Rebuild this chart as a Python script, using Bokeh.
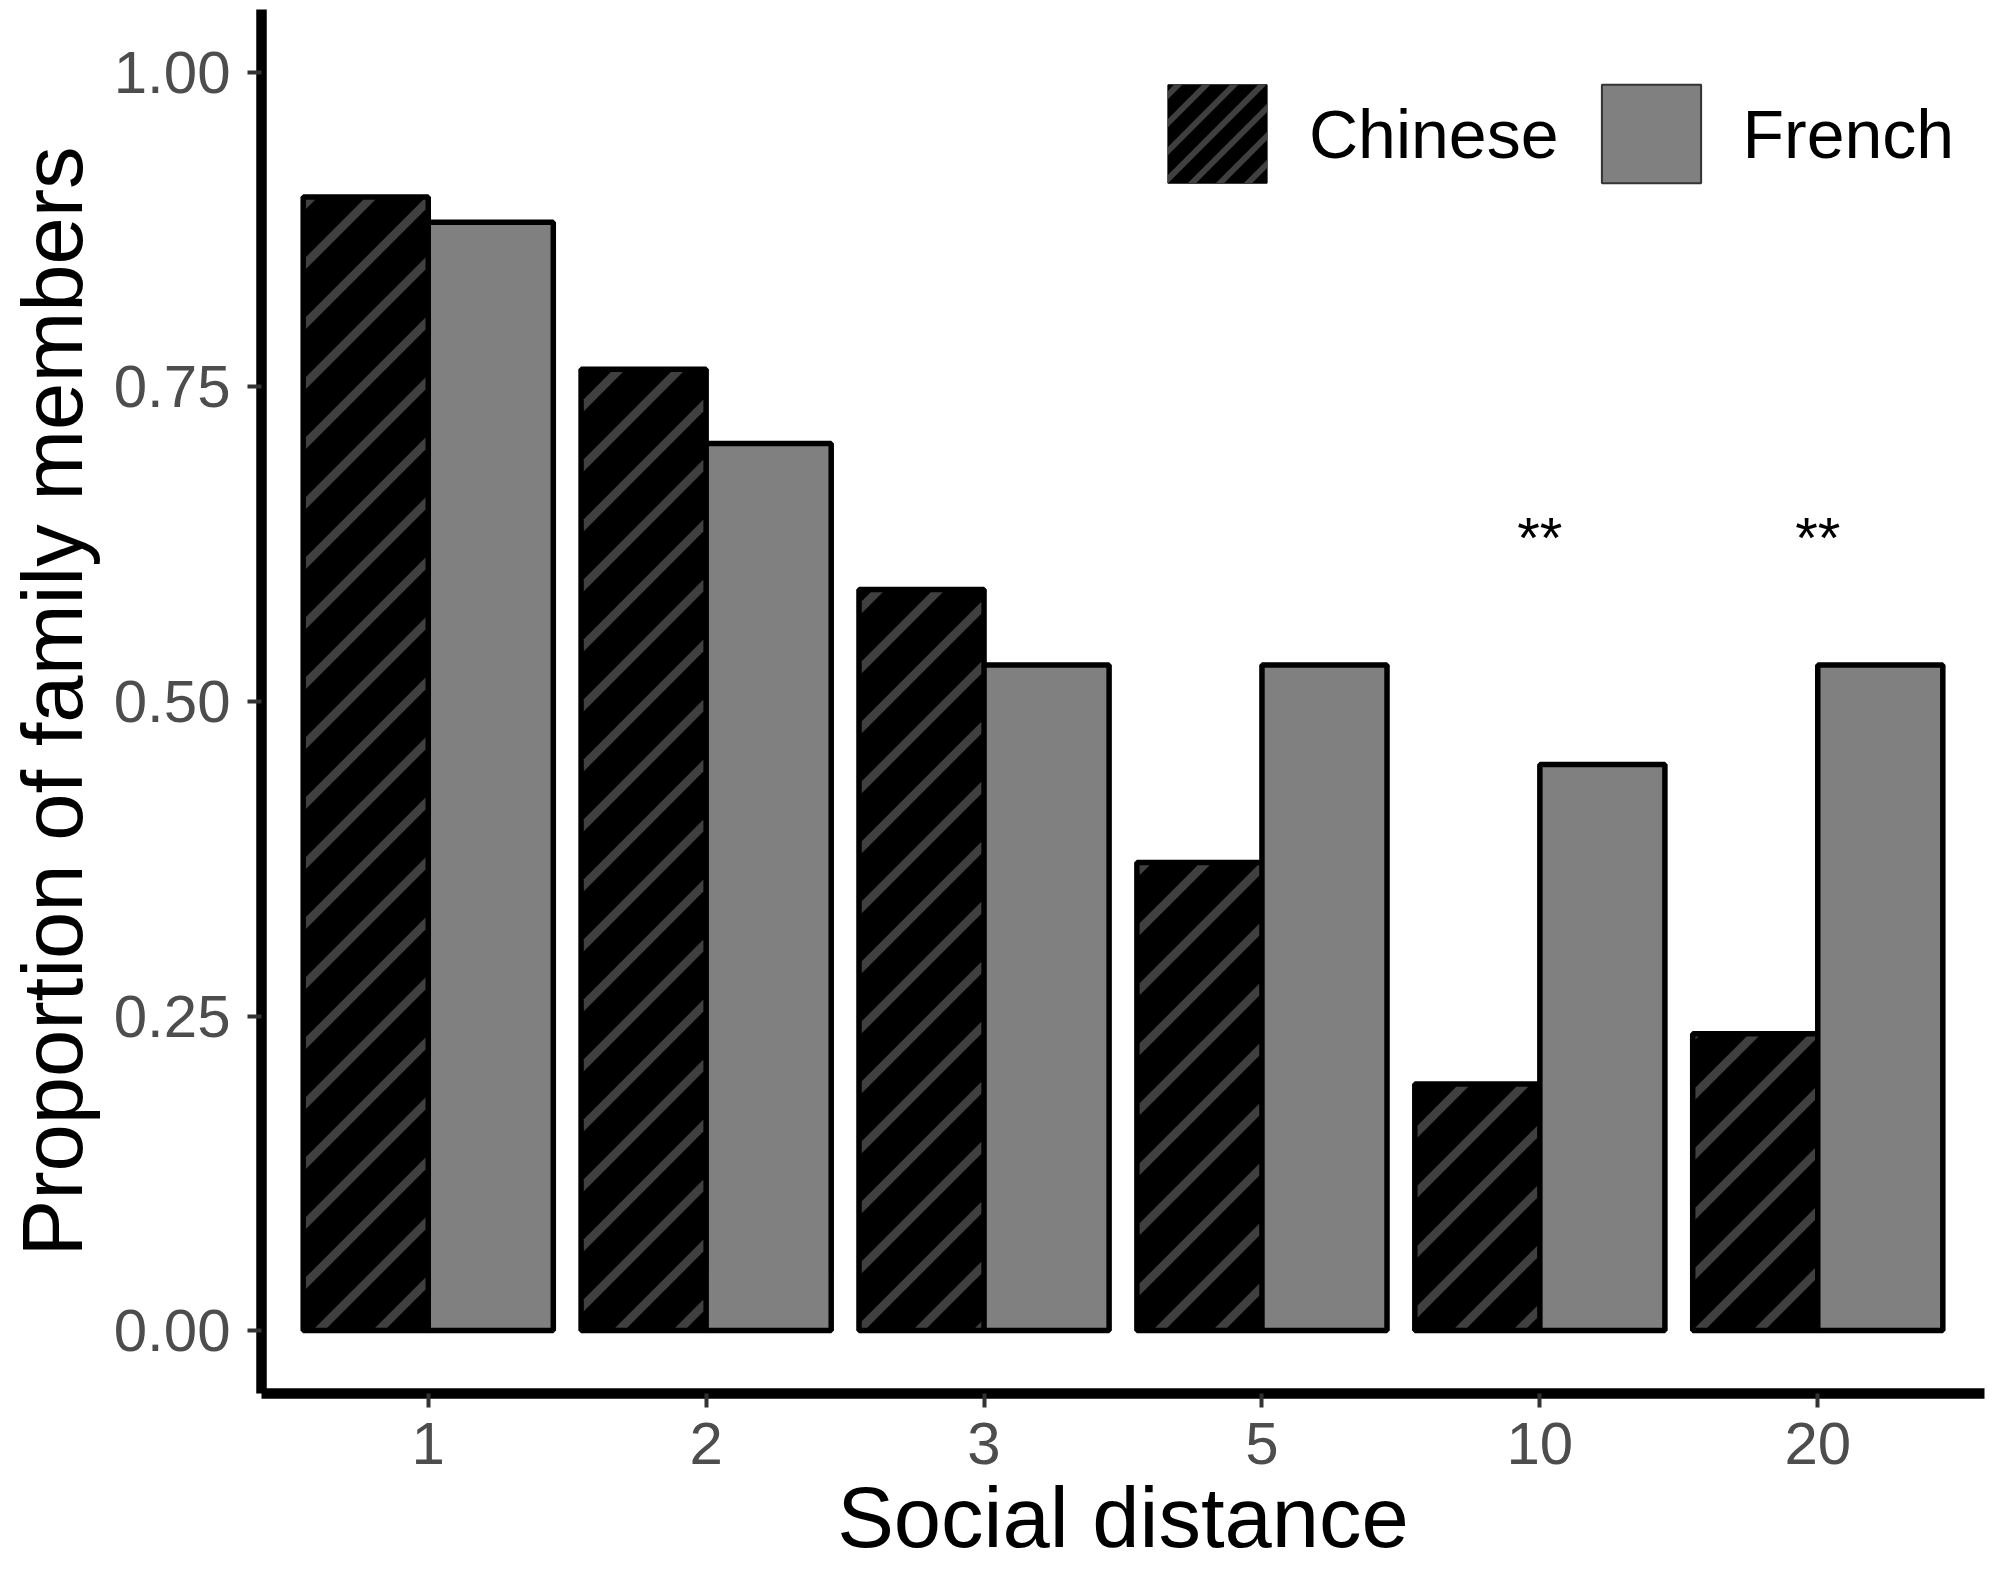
import math
from bokeh.plotting import figure
from bokeh.models import (Range1d, FixedTicker, NumeralTickFormatter,
                          Legend, LegendItem, ColumnDataSource)
from bokeh.transform import dodge
from bokeh.core.properties import value
from bokeh.embed import file_html
from bokeh.resources import INLINE

# ---- data ----
distances = ["1", "2", "3", "5", "10", "20"]
chinese = [0.901, 0.764, 0.589, 0.372, 0.196, 0.236]
french = [0.881, 0.705, 0.529, 0.529, 0.450, 0.529]
star_labels = ["", "", "", "", "**", "**"]
star_level = 0.63
y_ticks = [0.0, 0.25, 0.5, 0.75, 1.0]

FONT = "Liberation Sans"
STRIPE = "#404040"
W, H = 1987, 1570
FL, FT, FR = 261, 9, 3
FB = 1393
FW = W - FL - FR
FH = FB - FT

pos = list(range(1, len(distances) + 1))
src = ColumnDataSource(dict(pos=pos, dist=distances, chinese=chinese, french=french))

x0, x1 = 0.4, len(distances) + 0.6
y0, y1 = -0.05, 1.05
px_x = FW / (x1 - x0)
px_y = FH / (y1 - y0)

p = figure(width=W, height=H,
           x_range=Range1d(x0, x1), y_range=Range1d(y0, y1),
           output_backend="svg", toolbar_location=None, title=None,
           min_border_left=FL, min_border_right=FR,
           min_border_top=FT, min_border_bottom=H - FB)
p.background_fill_color = "white"
p.border_fill_color = "white"
p.outline_line_color = None
p.xgrid.visible = False
p.ygrid.visible = False


# ---- helper: 45 degree "/" stripes clipped to a pixel rectangle ----
def _clip(poly, a, b, c):
    out = []
    n = len(poly)
    for i in range(n):
        P, Q = poly[i], poly[(i + 1) % n]
        fp = a * P[0] + b * P[1] - c
        fq = a * Q[0] + b * Q[1] - c
        if fp <= 0:
            out.append(P)
        if fp * fq < 0:
            t = fp / (fp - fq)
            out.append((P[0] + t * (Q[0] - P[0]), P[1] + t * (Q[1] - P[1])))
    return out


def stripes(L, R, B, T, spacing, half, phase, xs, ys):
    """L,R,B,T in frame pixels (y up). Bands around lines y - x = c."""
    rect = [(L, B), (R, B), (R, T), (L, T)]
    kmin = math.floor((B - R - phase) / spacing) - 1
    kmax = math.ceil((T - L - phase) / spacing) + 1
    for k in range(kmin, kmax + 1):
        c = phase + k * spacing
        poly = _clip(rect, 1, -1, half - c)      # y - x >= c - half
        poly = _clip(poly, -1, 1, c + half)      # y - x <= c + half
        if len(poly) >= 3:
            xs.append([x0 + q[0] / px_x for q in poly])
            ys.append([y0 + q[1] / px_y for q in poly])


bar_w = 0.45
r_ch = p.vbar(x=dodge("pos", -bar_w / 2, range=p.x_range), top="chinese", bottom=0,
              width=bar_w, source=src, fill_color="black", line_color="black",
              line_width=5.5)
r_fr = p.vbar(x=dodge("pos", bar_w / 2, range=p.x_range), top="french", bottom=0,
              width=bar_w, source=src, fill_color="#808080", line_color="black",
              line_width=5.5)

# stripes inside the Chinese bars (inside the outline)
inset = 2.75
sxs, sys_ = [], []
for xc, top in zip(pos, chinese):
    L = (xc - bar_w - x0) * px_x + inset
    R = (xc - x0) * px_x - inset
    B = (0 - y0) * px_y + inset
    T = (top - y0) * px_y - inset
    stripes(L, R, B, T, 60, 6.0, 6, sxs, sys_)
p.patches(xs=sxs, ys=sys_, fill_color=STRIPE, line_color=None)

# legend-only renderers: Chinese key is drawn by hand below (transparent here)
l_ch = p.vbar(x=dodge("pos", -bar_w / 2, range=p.x_range), top="chinese", bottom=0,
              width=bar_w, source=src, fill_alpha=0, line_alpha=0)
l_fr = p.vbar(x=dodge("pos", bar_w / 2, range=p.x_range), top="french", bottom=0,
              width=bar_w, source=src, fill_color="#808080", line_color="#333333",
              line_width=2)
l_ch.visible = False
l_fr.visible = False

# significance stars
st_x = [pos[i] for i, s in enumerate(star_labels) if s]
st_t = [s for s in star_labels if s]
p.text(x=st_x, y=[star_level] * len(st_x), text=st_t, text_font=value(FONT),
       text_font_size="58px", text_align="center", text_baseline="alphabetic",
       text_color="black")

# axes
for ax in (p.xaxis[0], p.yaxis[0]):
    ax.axis_line_width = 10.5
    ax.axis_line_color = "black"
    ax.major_tick_line_width = 4
    ax.major_tick_line_color = "#333333"
    ax.major_tick_in = 0
    ax.major_tick_out = 14
    ax.minor_tick_line_color = None
    ax.major_label_text_font = FONT
    ax.major_label_text_font_size = "60px"
    ax.major_label_text_color = "#4D4D4D"
    ax.axis_label_text_font = FONT
    ax.axis_label_text_font_size = "85px"
    ax.axis_label_text_font_style = "normal"
    ax.axis_label_text_color = "black"

p.xaxis.ticker = FixedTicker(ticks=pos)
p.xaxis.major_label_overrides = {k: d for k, d in zip(pos, distances)}
p.xaxis.major_label_standoff = 15
p.xaxis.axis_label = "Social distance"
p.xaxis.axis_label_standoff = 3

p.yaxis.ticker = FixedTicker(ticks=y_ticks)
p.yaxis.formatter = NumeralTickFormatter(format="0.00")
p.yaxis.major_label_standoff = 17
p.yaxis.axis_label = "Proportion of family members"
p.yaxis.axis_label_standoff = 11

# legend
LEG_X, LEG_Y, GW, GH = 894, 1198, 124, 123
legend = Legend(items=[LegendItem(label="Chinese", renderers=[l_ch]),
                       LegendItem(label="French", renderers=[l_fr])],
                orientation="horizontal", location=(LEG_X, LEG_Y),
                padding=0, margin=0, border_line_color=None,
                background_fill_alpha=0, glyph_width=GW, glyph_height=GH,
                label_standoff=30, spacing=30,
                label_text_font=FONT, label_text_font_size="68px",
                label_text_color="black", label_text_baseline="middle")
p.add_layout(legend)

# hand-drawn striped key for "Chinese" (same box Bokeh uses: 10% inset of glyph area)
kL, kR = LEG_X + 0.1 * GW, LEG_X + 0.9 * GW
kB, kT = LEG_Y + 0.1 * GH, LEG_Y + 0.9 * GH
p.quad(left=[x0 + kL / px_x], right=[x0 + kR / px_x],
       bottom=[y0 + kB / px_y], top=[y0 + kT / px_y],
       fill_color="black", line_color="black", line_width=1)
lxs, lys = [], []
stripes(kL, kR, kB, kT, 28, 4.2, 0, lxs, lys)
p.patches(xs=lxs, ys=lys, fill_color=STRIPE, line_color=None)

open("out.html", "w").write(file_html(p, INLINE))
